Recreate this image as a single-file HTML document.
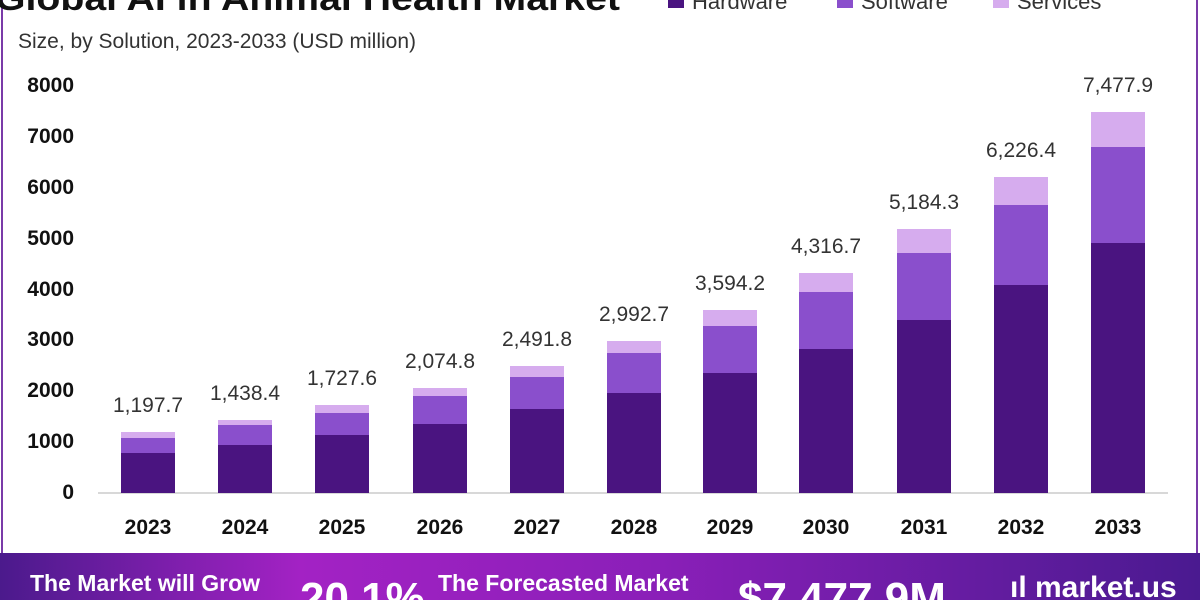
<!DOCTYPE html>
<html><head><meta charset="utf-8"><style>
body{margin:0;width:1200px;height:600px;overflow:hidden;background:#fff;font-family:"Liberation Sans",sans-serif;}
</style></head><body>
<svg width="1200" height="600" xmlns="http://www.w3.org/2000/svg" style="position:absolute;left:0;top:0">
<defs>
<linearGradient id="bg" x1="0" x2="1" y1="0" y2="0">
<stop offset="0" stop-color="#4b1a8c"/><stop offset="0.25" stop-color="#a322c4"/><stop offset="0.55" stop-color="#8a1fb8"/><stop offset="1" stop-color="#4a1a90"/>
</linearGradient>
</defs>
<rect x="2" y="-5" width="1195" height="560" fill="none" stroke="#7a3aa8" stroke-width="2"/>
<text x="-5" y="10" font-size="34" font-weight="bold" fill="#111" textLength="625" lengthAdjust="spacingAndGlyphs">Global AI in Animal Health Market</text>
<rect x="668" y="-6" width="16" height="14" fill="#4a1480"/><text x="692" y="9" font-size="22" fill="#333">Hardware</text>
<rect x="837" y="-6" width="16" height="14" fill="#8a4fcc"/><text x="861" y="9" font-size="22" fill="#333">Software</text>
<rect x="993" y="-6" width="16" height="14" fill="#d6acee"/><text x="1017" y="9" font-size="22" fill="#333">Services</text>
<text x="18" y="48" font-size="21" fill="#333">Size, by Solution, 2023-2033 (USD million)</text>
<g font-size="21" font-weight="bold" fill="#111" text-anchor="end">
<text x="74" y="92">8000</text><text x="74" y="143">7000</text><text x="74" y="194">6000</text><text x="74" y="245">5000</text><text x="74" y="296">4000</text><text x="74" y="346">3000</text><text x="74" y="397">2000</text><text x="74" y="448">1000</text><text x="74" y="499">0</text>
</g>
<line x1="98" y1="493" x2="1168" y2="493" stroke="#ccc" stroke-width="1.5"/>
<g id="bars"></g>
<rect x="0" y="553" width="1200" height="47" fill="url(#bg)"/>
<text x="30" y="591" font-size="23" font-weight="bold" fill="#fff">The Market will Grow</text>
<text x="300" y="613" font-size="44" font-weight="bold" fill="#fff">20.1%</text>
<text x="438" y="591" font-size="23" font-weight="bold" fill="#fff">The Forecasted Market</text>
<text x="738" y="613" font-size="44" font-weight="bold" fill="#fff">$7,477.9M</text>
<text x="1010" y="597" font-size="30" font-weight="bold" fill="#fff">ıl market.us</text>
</svg>
<script>
var d=[[148,453,438,432,"1,197.7","2023"],[245,445,425,420,"1,438.4","2024"],[342,435,413,405,"1,727.6","2025"],[440,424,396,388,"2,074.8","2026"],[537,409,377,366,"2,491.8","2027"],[634,393,353,341,"2,992.7","2028"],[730,373,326,310,"3,594.2","2029"],[826,349,292,273,"4,316.7","2030"],[924,320,253,229,"5,184.3","2031"],[1021,285,205,177,"6,226.4","2032"],[1118,243,147,112,"7,477.9","2033"]];
var s="";d.forEach(function(b){var x=b[0]-27;
s+='<rect x="'+x+'" y="'+b[3]+'" width="54" height="'+(b[2]-b[3])+'" fill="#d6acee"/>';
s+='<rect x="'+x+'" y="'+b[2]+'" width="54" height="'+(b[1]-b[2])+'" fill="#8a4fcc"/>';
s+='<rect x="'+x+'" y="'+b[1]+'" width="54" height="'+(493-b[1])+'" fill="#4a1480"/>';
s+='<text x="'+b[0]+'" y="'+(b[3]-20)+'" font-size="21" fill="#333" text-anchor="middle">'+b[4]+'</text>';
s+='<text x="'+b[0]+'" y="534" font-size="21" font-weight="bold" fill="#111" text-anchor="middle">'+b[5]+'</text>';});
document.getElementById("bars").innerHTML=s;
</script>
</body></html>
